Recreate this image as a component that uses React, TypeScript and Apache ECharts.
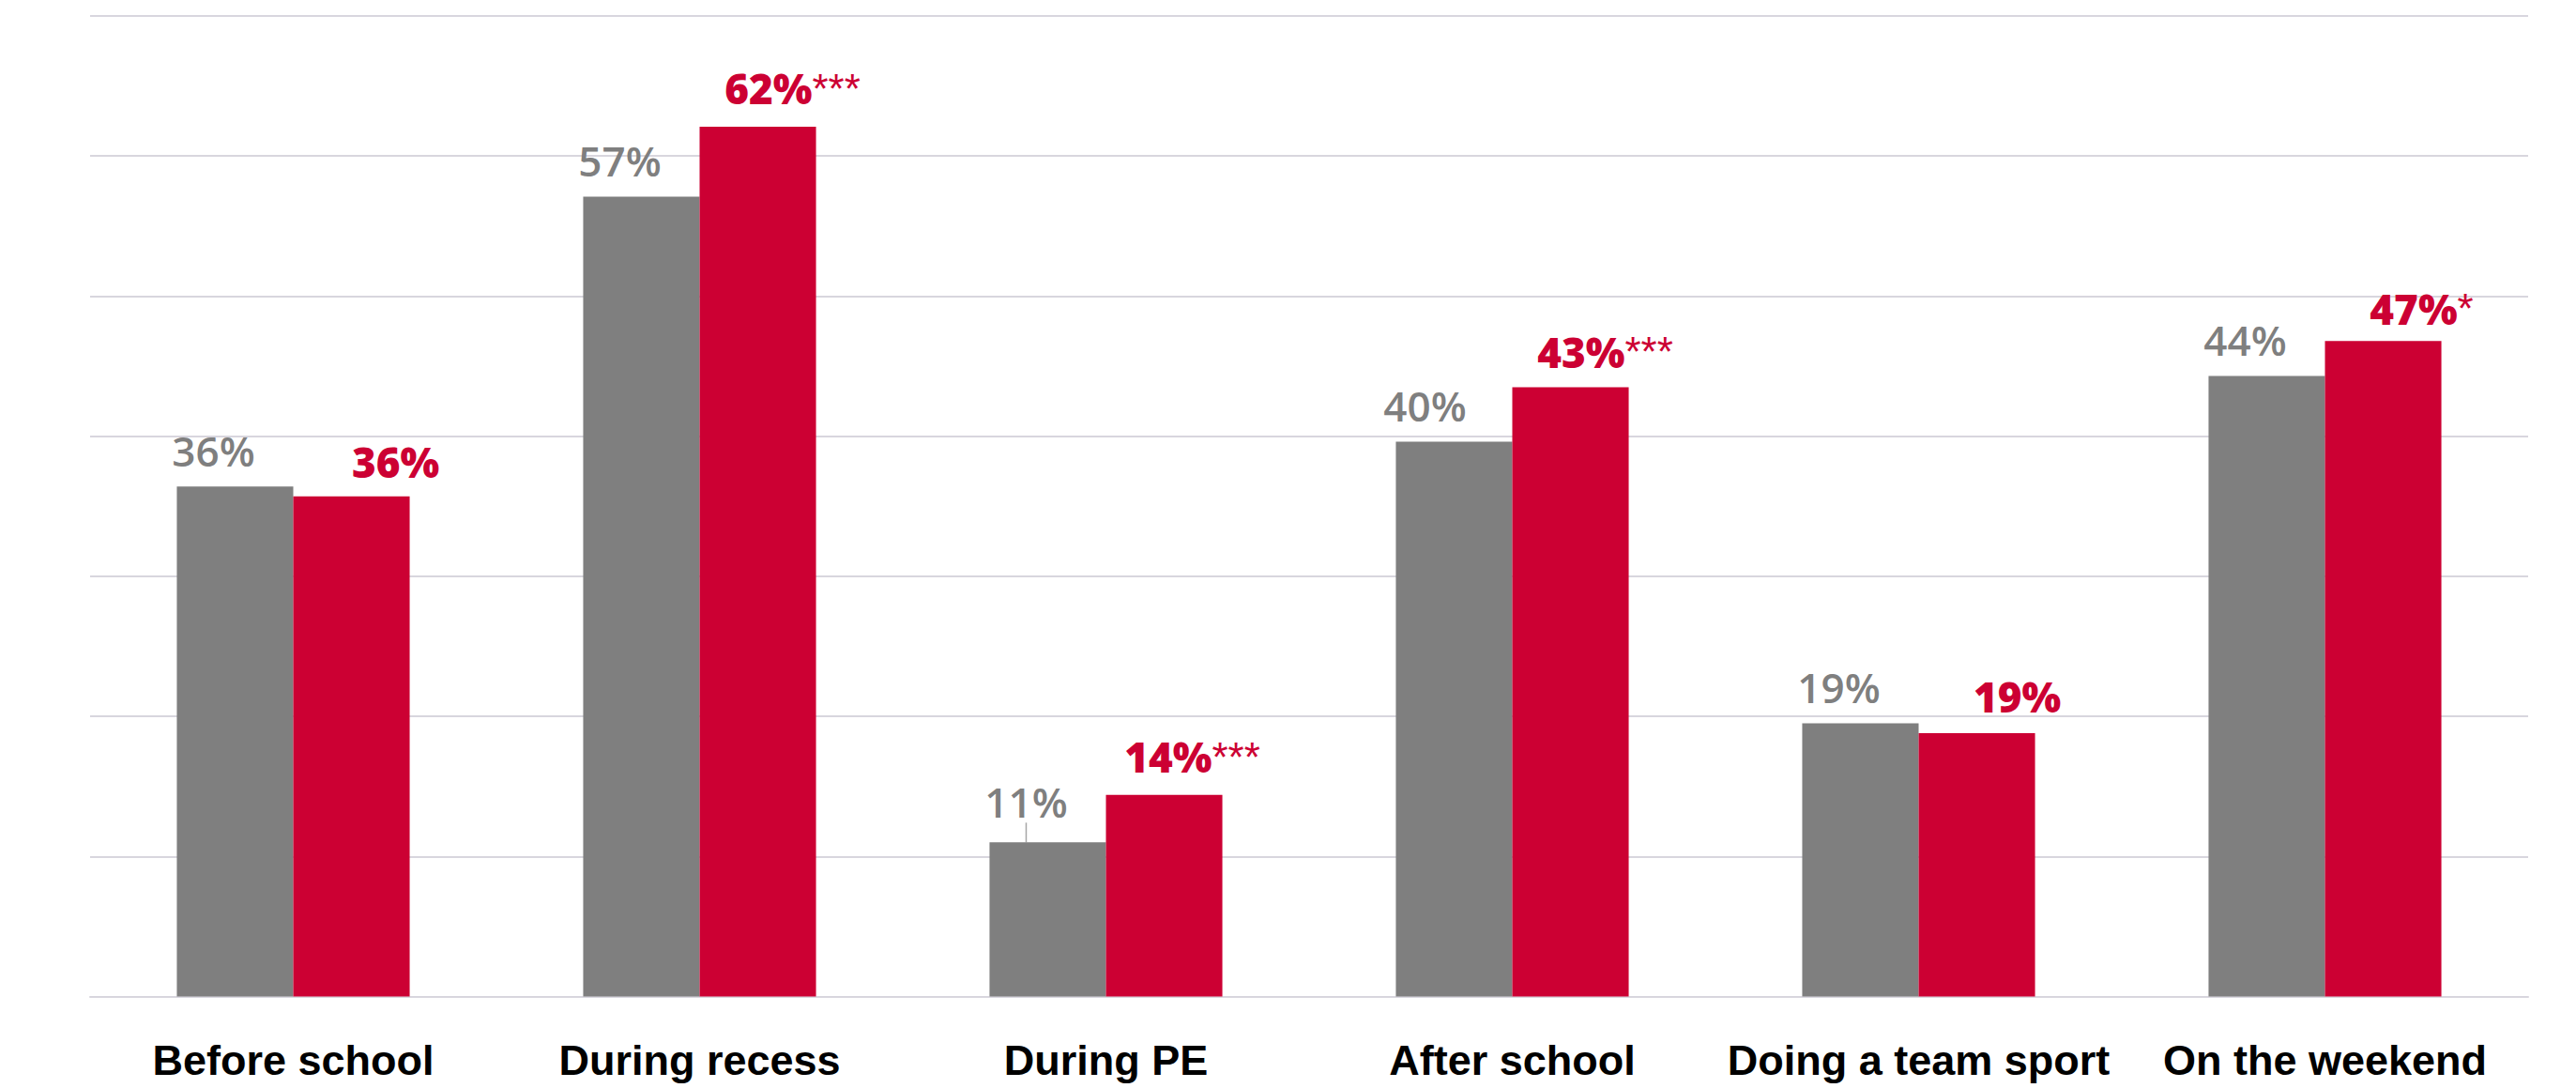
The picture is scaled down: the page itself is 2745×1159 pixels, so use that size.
import React, { useEffect, useRef } from "react";
import * as echarts from "echarts";

const categories = ["Before school", "During recess", "During PE", "After school", "Doing a team sport", "On the weekend"];
const grayValues = [36.4, 57.1, 11.0, 39.6, 19.5, 44.3];
const redValues = [35.7, 62.1, 14.4, 43.5, 18.8, 46.8];
const grayLabels = ["36%", "57%", "11%", "40%", "19%", "44%"];
const redLabels = ["36%", "62%", "14%", "43%", "19%", "47%"];
const redStars = ["", "***", "***", "***", "", "*"];

// label nudges (px) to mimic the manually placed labels
const grayShiftX = [-23, -23, -23, -31, -23, -23];
const grayShiftY = [0, 0, -5, 0, 0, 0];
const redShiftX = [47, 37, 30, 37, 43, 41];
const redShiftY = [2, -2, -2, 1, 0, 4];

const GRAY = "#7F7F7F";
const RED = "#CC0033";
const GRID = "#D8D6DE";
const AXIS_FONT = "'Liberation Sans', Arial, sans-serif";
const VALUE_FONT = "'Open Sans', 'Liberation Sans', sans-serif";

export default function App() {
  const ref = useRef<HTMLDivElement>(null);
  useEffect(() => {
    if (!ref.current) return;
    const chart = echarts.init(ref.current, undefined, { renderer: "svg" });
    chart.setOption({
      animation: false,
      backgroundColor: "#FFFFFF",
      grid: { left: 96, right: 51, top: 17, bottom: 97.5, containLabel: false },
      xAxis: {
        type: "category",
        data: categories,
        axisLine: { show: true, lineStyle: { color: GRID, width: 2 } },
        axisTick: { show: false },
        axisLabel: {
          margin: 45,
          color: "#000000",
          fontSize: 45,
          fontWeight: "bold",
          fontFamily: AXIS_FONT,
          interval: 0,
        },
      },
      yAxis: {
        type: "value",
        min: 0,
        max: 70,
        interval: 10,
        axisLabel: { show: false },
        axisLine: { show: false },
        axisTick: { show: false },
        splitLine: { show: true, lineStyle: { color: GRID, width: 2 } },
      },
      series: [
        {
          type: "bar",
          name: "gray",
          barGap: "0%",
          barCategoryGap: "42.7%",
          itemStyle: { color: GRAY },
          data: grayValues.map((v, i) =>
            i === 2
              ? { value: v, labelLine: { show: true, lineStyle: { color: "#A6A6A6", width: 1.5 } } }
              : { value: v }
          ),
          label: {
            show: true,
            position: "top",
            distance: 16,
            color: GRAY,
            fontSize: 44,
            lineHeight: 45,
            fontWeight: 600,
            fontFamily: VALUE_FONT,
            formatter: (p: any) => grayLabels[p.dataIndex],
          },
          labelLayout: (p: any) => ({ dx: grayShiftX[p.dataIndex], dy: grayShiftY[p.dataIndex] }),
        },
        {
          type: "bar",
          name: "red",
          barGap: "0%",
          barCategoryGap: "42.7%",
          itemStyle: { color: RED },
          data: redValues,
          label: {
            show: true,
            position: "top",
            distance: 16,
            formatter: (p: any) =>
              redStars[p.dataIndex]
                ? `{v|${redLabels[p.dataIndex]}}{s|${redStars[p.dataIndex]}}`
                : `{v|${redLabels[p.dataIndex]}}`,
            rich: {
              v: { color: RED, fontSize: 44, lineHeight: 45, fontWeight: 800, fontFamily: VALUE_FONT },
              s: { color: RED, fontSize: 44, lineHeight: 45, fontWeight: "normal", fontFamily: AXIS_FONT },
            },
          },
          labelLayout: (p: any) => ({ dx: redShiftX[p.dataIndex], dy: redShiftY[p.dataIndex] }),
        },
      ],
    });
    return () => chart.dispose();
  }, []);
  return (
    <div
      ref={ref}
      style={{ position: "fixed", left: 0, top: 0, width: 2745, height: 1159, background: "#FFFFFF" }}
    />
  );
}
